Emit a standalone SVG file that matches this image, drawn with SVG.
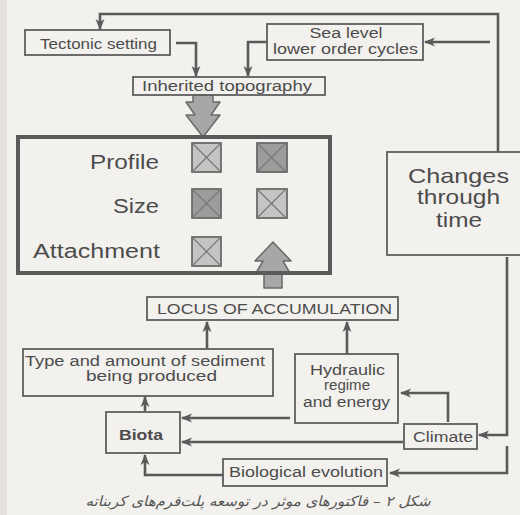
<svg xmlns="http://www.w3.org/2000/svg" xmlns:xlink="http://www.w3.org/1999/xlink" width="520" height="515" viewBox="0 0 520 515">
<style>
.bx{fill:none;stroke:#5e5e5e;stroke-width:1.8}
.big{fill:none;stroke:#5a5a5a;stroke-width:4}
.t{font-family:"Liberation Sans",Arial,sans-serif;fill:#4c4c4c;font-size:14px}
.tl{font-family:"Liberation Sans",Arial,sans-serif;fill:#4c4c4c;font-size:20px}
.c{text-anchor:middle}
.e{text-anchor:end}
.ln{fill:none;stroke:#5a5a5a;stroke-width:2.6}
.sq{stroke:#6a6a6a;stroke-width:1.8}
.lt{fill:#c6c4c2}
.dk{fill:#9e9c9a}
.xm{stroke:#777;stroke-width:1.2;fill:none}
.fat{fill:#a9a7a5;stroke:#6a6a6a;stroke-width:1.5;stroke-linejoin:round}
.cap{font-family:"DejaVu Sans","Noto Sans",sans-serif;fill:#555;font-size:14px;font-style:italic}
</style>
<defs>
<marker id="ah" markerWidth="12" markerHeight="10" refX="10" refY="5" orient="auto" markerUnits="userSpaceOnUse">
<path d="M0,0.5 L11,5 L0,9.5 L3,5 Z" fill="#5a5a5a"/>
</marker>
<path id="xm" d="M0,0 L29,29 M29,0 L0,29"/>
</defs>
<rect width="520" height="515" fill="#f3f1ee"/>
<rect width="7" height="515" fill="#e6e3df"/>

<g id="connectors">
<path class="ln" d="M498,152 L498,14 L100,14 L100,29" marker-end="url(#ah)"/>
<path class="ln" d="M176,43 L196,43 L196,76" marker-end="url(#ah)"/>
<path class="ln" d="M267,42 L248,42 L248,76" marker-end="url(#ah)"/>
<path class="ln" d="M490,42 L425,42" marker-end="url(#ah)"/>
<path class="ln" d="M507,257 L507,435 L479,435" marker-end="url(#ah)"/>
<path class="ln" d="M507,446 L507,473 L390,473" marker-end="url(#ah)"/>
<path class="ln" d="M448,422 L448,393 L401,393" marker-end="url(#ah)"/>
<path class="ln" d="M347,354 L347,322" marker-end="url(#ah)"/>
<path class="ln" d="M207,349 L207,322" marker-end="url(#ah)"/>
<path class="ln" d="M145,411 L145,397" marker-end="url(#ah)"/>
<path class="ln" d="M290,418 L182,418" marker-end="url(#ah)"/>
<path class="ln" d="M403,442 L182,442" marker-end="url(#ah)"/>
<path class="ln" d="M223,475 L145,475 L145,455" marker-end="url(#ah)"/>
<polygon class="fat" points="193,95 213,95 213,102 220,102 211,115 220,115 203,137 186,115 195,115 186,102 193,102"/>
<polygon class="fat" points="273,242 291,261 283,261 290,273 282,273 282,288 264,288 264,273 256,273 263,261 255,261"/>
</g>

<g id="tectonic">
<rect class="bx" x="25" y="30" width="145" height="25"/>
<text class="t c" x="98.5" y="49" textLength="117" lengthAdjust="spacingAndGlyphs">Tectonic setting</text>
</g>

<g id="sealevel">
<rect class="bx" x="267" y="24" width="156" height="36"/>
<text class="t c" x="346" y="38" textLength="73" lengthAdjust="spacingAndGlyphs">Sea level</text>
<text class="t c" x="345.5" y="54" textLength="145" lengthAdjust="spacingAndGlyphs">lower order cycles</text>
</g>

<g id="inherited">
<rect class="bx" x="133" y="77" width="192" height="18"/>
<text class="t c" x="227" y="91" textLength="170" lengthAdjust="spacingAndGlyphs">Inherited  topography</text>
</g>

<g id="attributes">
<rect class="big" x="18" y="137" width="312" height="136"/>
<text class="tl e" x="159" y="169" textLength="69" lengthAdjust="spacingAndGlyphs">Profile</text>
<text class="tl e" x="159" y="213" textLength="46" lengthAdjust="spacingAndGlyphs">Size</text>
<text class="tl e" x="160" y="258" textLength="127" lengthAdjust="spacingAndGlyphs">Attachment</text>
<rect class="sq lt" x="192" y="143" width="29" height="29"/>
<use class="xm" xlink:href="#xm" href="#xm" x="192" y="143"/>
<rect class="sq dk" x="257" y="143" width="30" height="29"/>
<use class="xm" xlink:href="#xm" href="#xm" x="257" y="143"/>
<rect class="sq dk" x="192" y="189" width="29" height="29"/>
<use class="xm" xlink:href="#xm" href="#xm" x="192" y="189"/>
<rect class="sq lt" x="257" y="189" width="30" height="29"/>
<use class="xm" xlink:href="#xm" href="#xm" x="257" y="189"/>
<rect class="sq lt" x="192" y="237" width="29" height="29"/>
<use class="xm" xlink:href="#xm" href="#xm" x="192" y="237"/>
</g>

<g id="changes">
<rect class="bx" x="387" y="152" width="140" height="103"/>
<text class="tl c" x="458.5" y="183" style="font-size:21px" textLength="101" lengthAdjust="spacingAndGlyphs">Changes</text>
<text class="tl c" x="458.5" y="204" style="font-size:21px" textLength="83" lengthAdjust="spacingAndGlyphs">through</text>
<text class="tl c" x="459" y="227" style="font-size:21px" textLength="46" lengthAdjust="spacingAndGlyphs">time</text>
</g>

<g id="locus">
<rect class="bx" x="147" y="297" width="251" height="23"/>
<text class="t c" x="274.5" y="314" textLength="235" lengthAdjust="spacingAndGlyphs">LOCUS OF ACCUMULATION</text>
</g>

<g id="sediment">
<rect class="bx" x="23" y="349" width="250" height="47"/>
<text class="t c" x="145" y="366" textLength="240" lengthAdjust="spacingAndGlyphs">Type and amount of sediment</text>
<text class="t c" x="151.5" y="381" textLength="131" lengthAdjust="spacingAndGlyphs">being produced</text>
</g>

<g id="hydraulic">
<rect class="bx" x="295" y="354" width="103" height="69"/>
<text class="t c" x="347.5" y="375" textLength="75" lengthAdjust="spacingAndGlyphs">Hydraulic</text>
<text class="t c" x="347" y="390" textLength="46" lengthAdjust="spacingAndGlyphs">regime</text>
<text class="t c" x="346.5" y="407" textLength="87" lengthAdjust="spacingAndGlyphs">and energy</text>
</g>

<g id="biota">
<rect class="bx" x="106" y="412" width="74" height="41"/>
<text class="t c" x="141" y="440" style="font-weight:bold" textLength="44" lengthAdjust="spacingAndGlyphs">Biota</text>
</g>

<g id="climate">
<rect class="bx" x="404" y="424" width="73" height="25"/>
<text class="t c" x="443" y="442" textLength="60" lengthAdjust="spacingAndGlyphs">Climate</text>
</g>

<g id="evolution">
<rect class="bx" x="223" y="459" width="164" height="27"/>
<text class="t c" x="306" y="477" textLength="154" lengthAdjust="spacingAndGlyphs">Biological evolution</text>
</g>

<text class="cap" x="258" y="506" text-anchor="middle" direction="rtl" textLength="345" lengthAdjust="spacingAndGlyphs">شکل ۲ – فاکتورهای موثر در توسعه پلت‌فرم‌های کربناته</text>
</svg>
